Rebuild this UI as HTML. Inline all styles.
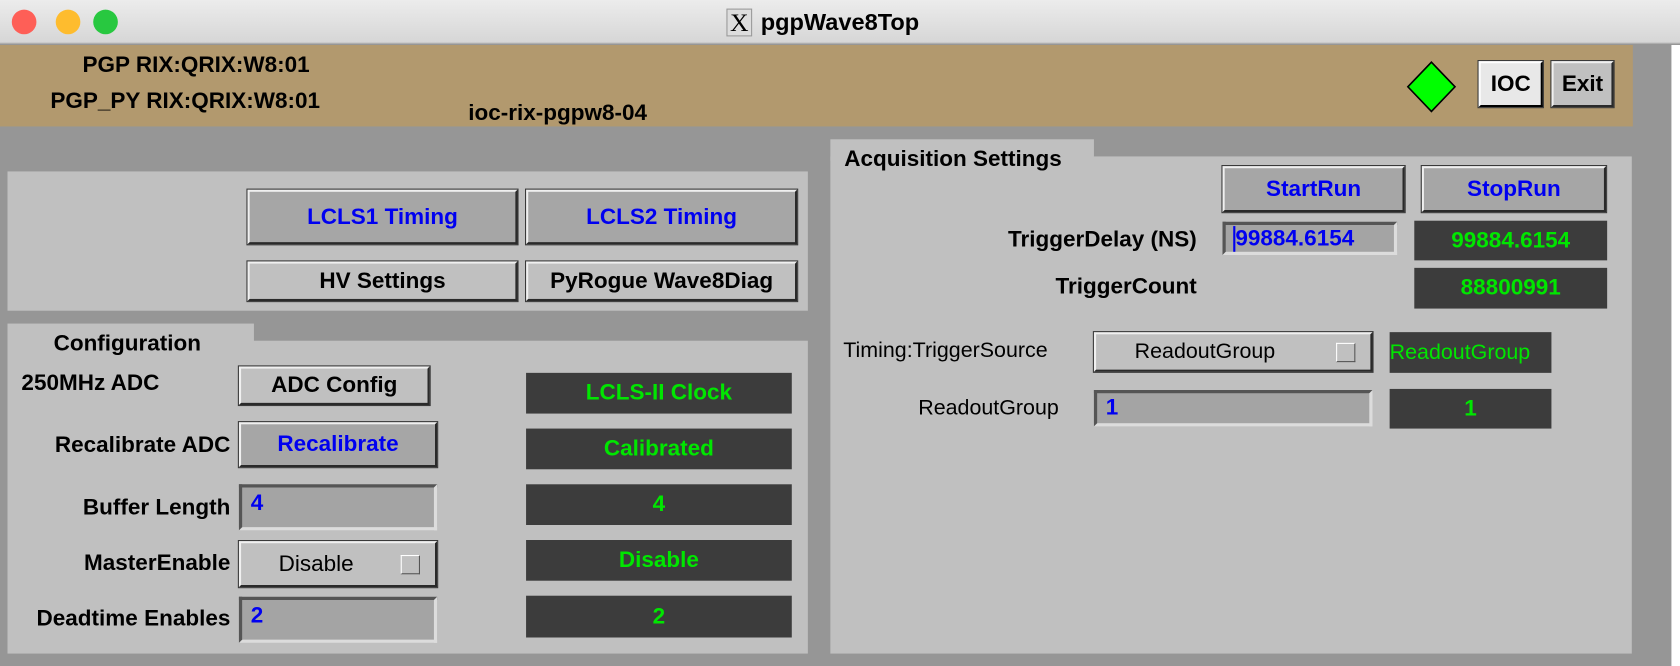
<!DOCTYPE html>
<html><head><meta charset="utf-8"><style>
html,body{margin:0;padding:0;width:1680px;height:666px;overflow:hidden;background:#969696}
#w{position:absolute;left:0;top:0;width:1568px;height:622px;transform:scale(1.07143);transform-origin:0 0;background:#969696;font-family:"Liberation Sans Narrow","Liberation Sans",sans-serif;font-weight:bold;font-size:21px}
.a{position:absolute;box-sizing:border-box}
.t{position:absolute;white-space:nowrap;color:#000}
.p{position:absolute;background:#c0c0c0}
.btn{position:absolute;box-sizing:border-box;border:2px solid;border-color:#f0f0f0 #2a2a2a #2a2a2a #f0f0f0;outline:1px solid #3a3a3a;display:flex;align-items:center;justify-content:center;background:#c0c0c0}
.bl{color:#0000f0;background:#a6a6a6}
.inp{position:absolute;box-sizing:border-box;background:#a4a4a4;border:3px solid;border-color:#555 #dcdcdc #dcdcdc #555;color:#0000f0;padding-left:8px;display:flex;align-items:center}
.d{position:absolute;background:#3c3c3c;color:#00e600;display:flex;align-items:center;justify-content:center}
.r{text-align:right}
</style></head><body><div id="w">
<div class="a" style="left:0;top:0;width:1568px;height:41px;background:linear-gradient(#ececec,#d6d6d6);border-bottom:1px solid #b0b0b0"></div>
<div class="a" style="left:11px;top:9px;width:23px;height:23px;border-radius:50%;background:#fe5f57"></div>
<div class="a" style="left:52px;top:9px;width:23px;height:23px;border-radius:50%;background:#febc2e"></div>
<div class="a" style="left:87px;top:9px;width:23px;height:23px;border-radius:50%;background:#28c840"></div>
<div class="a" style="left:678px;top:8px;width:24px;height:26px;background:#ddd;border:1px solid #999;font-family:'Liberation Serif',serif;font-weight:normal;font-size:24px;text-align:center;line-height:26px">X</div>
<div class="t" style="left:710px;top:8px;font-size:22px">pgpWave8Top</div>
<div class="a" style="left:0;top:42px;width:1524px;height:76px;background:#b2996e"></div>
<div class="a" style="left:1560px;top:42px;width:8px;height:580px;background:#fff"></div>
<div class="t" style="left:77px;top:49px">PGP RIX:QRIX:W8:01</div>
<div class="t" style="left:47px;top:83px">PGP_PY RIX:QRIX:W8:01</div>
<div class="t" style="left:437px;top:94px">ioc-rix-pgpw8-04</div>
<svg class="a" style="left:1312px;top:56px" width="48" height="50"><polygon points="24,2 46,25 24,48 2,25" fill="#00ff00" stroke="#000" stroke-width="1.5"/></svg>
<div class="btn" style="left:1380px;top:57px;width:60px;height:43px;background:#e8e8e8;border-color:#fff #000 #000 #fff">IOC</div>
<div class="btn" style="left:1448px;top:57px;width:58px;height:43px">Exit</div>

<div class="p" style="left:7px;top:160px;width:747px;height:130px"></div>
<div class="btn bl" style="left:231px;top:177px;width:252px;height:51px">LCLS1 Timing</div>
<div class="btn bl" style="left:491px;top:177px;width:253px;height:51px">LCLS2 Timing</div>
<div class="btn" style="left:231px;top:244px;width:252px;height:37px">HV Settings</div>
<div class="btn" style="left:491px;top:244px;width:253px;height:37px">PyRogue Wave8Diag</div>

<div class="p" style="left:7px;top:302px;width:230px;height:20px"></div>
<div class="p" style="left:7px;top:318px;width:747px;height:292px"></div>
<div class="t" style="left:50px;top:309px">Configuration</div>
<div class="t" style="left:20px;top:346px">250MHz ADC</div>
<div class="btn" style="left:223px;top:342px;width:178px;height:36px">ADC Config</div>
<div class="t" style="left:0;top:404px;width:215px;text-align:right">Recalibrate ADC</div>
<div class="btn bl" style="left:223px;top:394px;width:185px;height:42px">Recalibrate</div>
<div class="t" style="left:0;top:462px;width:215px;text-align:right">Buffer Length</div>
<div class="inp" style="left:223px;top:452px;width:185px;height:43px;align-items:flex-start;padding-top:3px">4</div>
<div class="t" style="left:0;top:514px;width:215px;text-align:right">MasterEnable</div>
<div class="btn" style="left:223px;top:505px;width:185px;height:43px;font-weight:normal;justify-content:flex-start;padding-left:35px">Disable<span style="position:absolute;right:14px;top:11px;width:18px;height:18px;border:1px solid;border-color:#fff #555 #555 #fff;box-sizing:border-box"></span></div>
<div class="t" style="left:0;top:566px;width:215px;text-align:right">Deadtime Enables</div>
<div class="inp" style="left:223px;top:557px;width:185px;height:43px;align-items:flex-start;padding-top:3px">2</div>
<div class="d" style="left:491px;top:348px;width:248px;height:38px">LCLS-II Clock</div>
<div class="d" style="left:491px;top:400px;width:248px;height:38px">Calibrated</div>
<div class="d" style="left:491px;top:452px;width:248px;height:38px">4</div>
<div class="d" style="left:491px;top:504px;width:248px;height:38px">Disable</div>
<div class="d" style="left:491px;top:556px;width:248px;height:39px">2</div>

<div class="p" style="left:775px;top:130px;width:246px;height:20px"></div>
<div class="p" style="left:775px;top:146px;width:748px;height:464px"></div>
<div class="t" style="left:788px;top:137px">Acquisition Settings</div>
<div class="btn bl" style="left:1141px;top:155px;width:170px;height:43px">StartRun</div>
<div class="btn bl" style="left:1327px;top:155px;width:172px;height:43px">StopRun</div>
<div class="t" style="left:900px;top:212px;width:217px;text-align:right">TriggerDelay (NS)</div>
<div class="inp" style="left:1141px;top:207px;width:163px;height:31px;padding-left:7px"><span style="border-left:2px solid #0000f0">99884.6154</span></div>
<div class="d" style="left:1320px;top:206px;width:180px;height:37px">99884.6154</div>
<div class="t" style="left:900px;top:256px;width:217px;text-align:right">TriggerCount</div>
<div class="d" style="left:1320px;top:250px;width:180px;height:38px">88800991</div>
<div class="t" style="left:787px;top:316px;font-weight:normal;font-size:20px">Timing:TriggerSource</div>
<div class="btn" style="left:1021px;top:310px;width:260px;height:37px;font-weight:normal;justify-content:flex-start;padding-left:36px;font-size:20px">ReadoutGroup<span style="position:absolute;right:14px;top:8px;width:18px;height:18px;border:1px solid;border-color:#fff #555 #555 #fff;box-sizing:border-box"></span></div>
<div class="d" style="left:1297px;top:310px;width:151px;height:38px;font-weight:normal;font-size:20px;justify-content:flex-start">ReadoutGroup</div>
<div class="t" style="left:857px;top:370px;font-weight:normal;font-size:20px">ReadoutGroup</div>
<div class="inp" style="left:1021px;top:364px;width:260px;height:34px">1</div>
<div class="d" style="left:1297px;top:363px;width:151px;height:37px">1</div>
</div></body></html>
